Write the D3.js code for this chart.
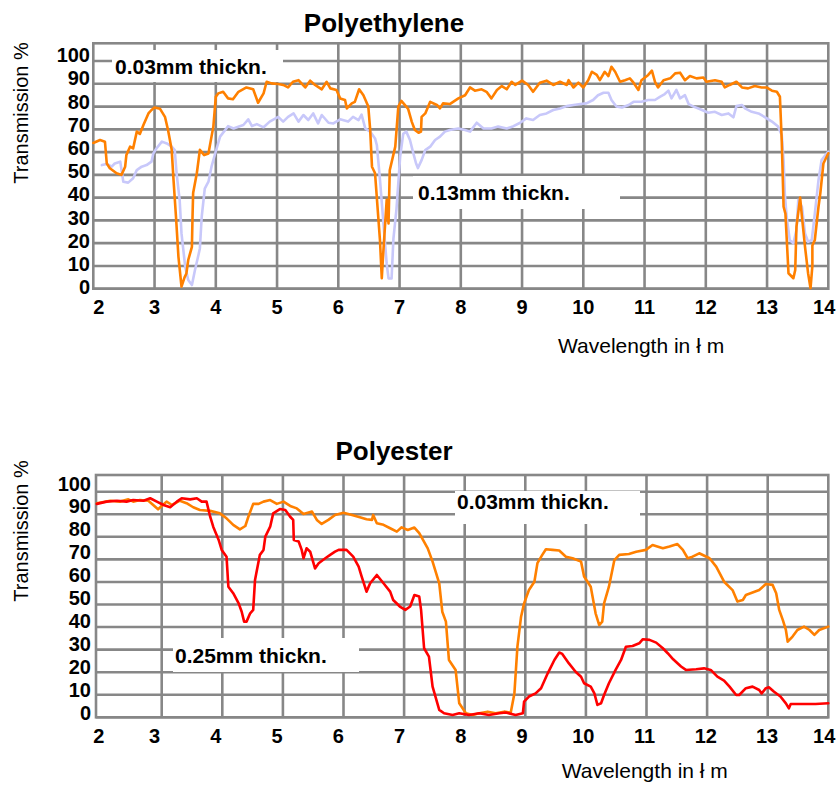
<!DOCTYPE html>
<html>
<head>
<meta charset="utf-8">
<script src="https://cdn.jsdelivr.net/npm/d3@7"></script>
<style>
  html, body { margin: 0; padding: 0; background: #fff; }
  svg { display: block; }
  text { font-family: "Liberation Sans", Arial, Helvetica, sans-serif; fill: #000; }
</style>
</head>
<body>
<svg id="chart" width="836" height="787"></svg>
<script>
// ---------------- DATA ----------------
const xTicks = [2, 3, 4, 5, 6, 7, 8, 9, 10, 11, 12, 13, 14];
const yTicks = [0, 10, 20, 30, 40, 50, 60, 70, 80, 90, 100];

const titles = ["Polyethylene", "Polyester"];
const yTitle = "Transmission %";
const xTitle = "Wavelength in ł m";

// Polyethylene 0.03mm (orange)
const pe003 = [[2.0,64],[2.11,65.3],[2.19,64.6],[2.22,55],[2.27,52.9],[2.38,50.7],[2.46,50],[2.52,53.6],[2.54,58.7],[2.6,62.4],[2.65,61.6],[2.71,69],[2.76,68],[2.82,72],[2.9,77],[2.95,78.5],[3.0,79.6],[3.09,79],[3.17,75.5],[3.22,69.7],[3.28,61],[3.31,47.7],[3.35,31.6],[3.39,14],[3.44,0.9],[3.49,5],[3.52,6.7],[3.55,12.6],[3.61,18.4],[3.62,31.6],[3.63,42],[3.69,50.7],[3.74,61],[3.81,58.7],[3.88,59.4],[3.93,66.8],[3.96,71.2],[4.0,84.3],[4.04,85.8],[4.12,86.5],[4.2,83.6],[4.28,83.2],[4.37,86.5],[4.5,88.4],[4.61,87.6],[4.69,81.7],[4.78,85.8],[4.83,90.9],[4.91,90.2],[5.02,89.9],[5.1,89.5],[5.18,88.4],[5.26,90.9],[5.35,91.6],[5.46,88.4],[5.54,91.4],[5.62,89.5],[5.73,87.6],[5.81,90.9],[5.87,88],[5.97,87.3],[6.03,83.6],[6.11,82.9],[6.14,79.2],[6.22,81.4],[6.27,82.1],[6.34,87.6],[6.41,85],[6.49,80],[6.52,70],[6.55,53.6],[6.6,50.7],[6.68,21.4],[6.71,4.6],[6.73,14],[6.79,39],[6.82,28.7],[6.84,52],[6.93,62.4],[6.98,80],[7.03,82.5],[7.14,79],[7.2,73.3],[7.25,69.7],[7.31,68.5],[7.35,69],[7.36,75.5],[7.42,77],[7.5,82.1],[7.61,80.7],[7.66,79.2],[7.71,81.4],[7.82,81.1],[7.96,83.6],[8.07,85],[8.15,88.4],[8.23,87],[8.34,87.6],[8.42,86.5],[8.5,83.6],[8.59,87.3],[8.67,89],[8.75,87.6],[8.83,90.9],[8.89,89.5],[9.0,91.4],[9.1,89.5],[9.18,86.5],[9.29,90.5],[9.4,91.4],[9.51,89.5],[9.62,90.9],[9.73,89.5],[9.76,91.6],[9.84,88.4],[9.92,90.5],[10.0,88.4],[10.08,91.6],[10.14,95.3],[10.22,93.9],[10.27,91.6],[10.35,95.3],[10.41,93.4],[10.46,97.5],[10.52,95.3],[10.6,90.9],[10.68,91.6],[10.76,92.4],[10.82,90.5],[10.9,87.3],[10.95,91.6],[11.06,93.9],[11.12,95.8],[11.17,90.9],[11.22,88.4],[11.31,91.6],[11.42,92.4],[11.5,94.6],[11.58,94.9],[11.66,91.6],[11.74,93.4],[11.85,92.4],[11.96,92.8],[12.01,90.9],[12.15,91.6],[12.26,90.9],[12.31,88.4],[12.39,89.5],[12.5,90.9],[12.59,88.4],[12.69,88],[12.8,89],[12.91,88.4],[12.99,88.4],[13.08,87],[13.16,86.5],[13.21,84.3],[13.24,65],[13.27,36],[13.3,33],[13.35,6.8],[13.43,4.6],[13.46,8.2],[13.48,27.2],[13.54,40],[13.57,31.6],[13.62,18.4],[13.67,6.8],[13.71,0.2],[13.74,10],[13.74,19],[13.78,21.4],[13.84,36],[13.87,42],[13.92,55],[14.0,59.5]];

// Polyethylene 0.13mm (lavender)
const pe013 = [[2.14,54.3],[2.22,54.8],[2.3,53.6],[2.35,55],[2.44,55.8],[2.49,47],[2.57,46.6],[2.65,48.5],[2.71,52.1],[2.79,53.6],[2.87,54.3],[2.95,55.8],[2.98,59.4],[3.03,61.6],[3.12,64.6],[3.2,63.8],[3.28,62.4],[3.33,60.9],[3.36,50.7],[3.41,38.9],[3.44,24.3],[3.5,9.7],[3.55,3.8],[3.61,1.6],[3.66,8.2],[3.71,14],[3.74,17.7],[3.77,31.6],[3.82,44],[3.88,47],[3.93,53.6],[3.99,59.4],[4.07,66.8],[4.2,71.4],[4.29,70.4],[4.39,71.4],[4.45,71.9],[4.53,74.4],[4.59,71.4],[4.67,72.3],[4.78,70.9],[4.88,73.4],[5.02,75.5],[5.1,73.4],[5.18,75.5],[5.27,77],[5.35,73.4],[5.43,76.3],[5.51,74.1],[5.59,77],[5.67,72.6],[5.73,76.3],[5.84,72.9],[5.92,72.6],[6.03,74.4],[6.16,73.4],[6.24,75.5],[6.33,74.1],[6.38,76.5],[6.44,70.4],[6.52,69],[6.6,66],[6.63,63],[6.68,48],[6.73,31],[6.79,11],[6.82,4.5],[6.87,4.5],[6.9,22],[6.95,35],[7.01,58],[7.06,68],[7.11,69],[7.17,65.3],[7.22,60],[7.27,55],[7.3,53],[7.36,56.5],[7.42,60.9],[7.5,62.4],[7.58,65.3],[7.66,66.8],[7.74,69],[7.82,69.7],[7.96,70.4],[8.07,69.7],[8.15,69],[8.26,72.9],[8.37,70.4],[8.5,70.4],[8.61,71.2],[8.75,70.4],[8.86,71.4],[8.97,72.9],[9.07,74.8],[9.18,74.1],[9.29,76.3],[9.4,77],[9.51,78.5],[9.62,79.2],[9.73,80.2],[9.84,80.7],[9.95,81.1],[10.05,81.4],[10.16,82.9],[10.24,85],[10.33,86.1],[10.41,86.1],[10.46,82.9],[10.54,80],[10.63,79.6],[10.74,80.7],[10.82,82.1],[10.95,82.1],[11.06,82.9],[11.17,82.9],[11.25,84.3],[11.33,85.5],[11.39,87],[11.44,83.6],[11.52,87.3],[11.58,83.6],[11.66,85],[11.72,81.1],[11.8,80],[11.91,78.8],[12.04,77.3],[12.15,77.7],[12.26,76.3],[12.37,77],[12.45,75.3],[12.5,80.2],[12.59,80.7],[12.64,79.2],[12.75,77.7],[12.86,77],[12.97,75.3],[13.08,73.4],[13.18,71.2],[13.24,67.5],[13.27,56.5],[13.29,41.9],[13.32,31.6],[13.37,21.4],[13.43,19.9],[13.48,25.8],[13.51,39],[13.57,36],[13.62,24.3],[13.67,20.6],[13.73,21.4],[13.78,33],[13.84,47.7],[13.89,56.5],[14.0,60.2]];

// Polyester 0.03mm (orange)
const pes003 = [[1.93,94.9],[2.15,96],[2.31,95.6],[2.45,96.6],[2.53,95.6],[2.64,96.3],[2.78,96],[2.86,94.1],[2.94,92.2],[3.0,93.7],[3.08,95.6],[3.17,94.1],[3.3,96],[3.41,94.9],[3.52,93.1],[3.63,91.9],[3.8,91.5],[3.96,90.4],[4.07,88.2],[4.18,85.3],[4.29,83.3],[4.38,84.8],[4.43,88.9],[4.51,94.6],[4.6,94.6],[4.68,95.6],[4.79,96.3],[4.9,94.6],[5.01,95.6],[5.12,93.7],[5.23,92.6],[5.34,90.1],[5.48,91.2],[5.56,87.5],[5.64,85.7],[5.75,87.5],[5.86,89.7],[6.0,90.7],[6.14,89.7],[6.27,88.7],[6.38,87.8],[6.47,87.5],[6.49,89.7],[6.55,86],[6.66,85.3],[6.77,83.8],[6.88,82.3],[6.96,84.2],[7.06,83],[7.17,84.1],[7.25,81.6],[7.39,74.9],[7.47,69],[7.58,59.4],[7.63,46.8],[7.69,42.4],[7.74,25.4],[7.85,21],[7.91,6.2],[8.02,1.8],[8.13,1],[8.24,1.8],[8.38,2.5],[8.51,1.8],[8.65,2.5],[8.76,2.1],[8.82,10.6],[8.87,31.3],[8.93,44.6],[8.98,50.5],[9.06,56.4],[9.15,60.1],[9.2,68.3],[9.28,72],[9.34,74.5],[9.45,74.2],[9.56,73.9],[9.67,71.2],[9.78,70.5],[9.92,69],[9.97,62.4],[10.08,57.9],[10.16,46.1],[10.22,40.9],[10.27,42.4],[10.3,50.5],[10.38,57.9],[10.47,69.7],[10.55,72],[10.71,72.4],[10.83,73.4],[10.99,74.2],[11.1,76.4],[11.27,74.9],[11.38,75.7],[11.51,76.8],[11.6,74.2],[11.68,70.5],[11.76,71.2],[11.87,72.7],[12.04,70.5],[12.15,66.8],[12.28,60.1],[12.42,56.4],[12.5,51.3],[12.59,52],[12.64,54.2],[12.75,55.3],[12.86,56.4],[12.97,59.1],[13.08,58.7],[13.14,55],[13.19,47.6],[13.25,43.1],[13.3,38.7],[13.33,33.5],[13.41,35.8],[13.49,38.7],[13.6,40.2],[13.69,38.7],[13.77,36.5],[13.85,38.7],[14.0,40.2]];

// Polyester 0.25mm (red)
const pes025 = [[1.93,94.6],[2.09,95.6],[2.26,96],[2.42,95.6],[2.53,96.3],[2.7,96],[2.81,97.1],[2.92,95.6],[3.03,94.1],[3.14,93.1],[3.25,95.6],[3.33,97.1],[3.47,96.6],[3.58,97.1],[3.66,95.6],[3.74,95.6],[3.8,88.9],[3.85,84.5],[3.94,78.6],[3.99,74.2],[4.07,71.2],[4.1,57.9],[4.18,55],[4.27,50.5],[4.32,46.8],[4.36,42.4],[4.4,42.4],[4.46,46.1],[4.51,47.6],[4.54,60.9],[4.62,72],[4.68,74.2],[4.71,80.1],[4.79,84.5],[4.84,90.4],[4.95,92.3],[5.04,91.9],[5.12,88.9],[5.17,87.5],[5.18,78.6],[5.26,77.9],[5.31,74.2],[5.34,70.5],[5.39,74.9],[5.45,73.4],[5.53,66],[5.59,68.3],[5.7,70.5],[5.78,72],[5.86,73.4],[5.92,74.2],[6.05,74.2],[6.16,71.2],[6.25,66.8],[6.3,62.4],[6.38,55.7],[6.44,59.4],[6.55,63.1],[6.66,59.4],[6.77,55.7],[6.82,52],[6.93,49.1],[7.02,47.6],[7.1,49.1],[7.17,54.2],[7.25,53.5],[7.28,47.6],[7.33,30.6],[7.41,26.9],[7.47,13.6],[7.58,3.3],[7.66,1.8],[7.8,1],[7.91,1.8],[8.07,1],[8.24,1.8],[8.4,1],[8.57,1.8],[8.68,2.1],[8.84,1],[8.96,1.8],[8.98,6.9],[9.06,9.2],[9.17,10.6],[9.26,12.9],[9.37,19.5],[9.48,25.4],[9.56,28.7],[9.61,28.1],[9.72,23.9],[9.83,20.2],[9.92,18],[9.97,15.1],[10.08,13.6],[10.14,10.6],[10.19,5.5],[10.25,6.2],[10.3,9.9],[10.38,15.1],[10.49,21],[10.58,25.4],[10.66,31.3],[10.77,31.6],[10.88,32.8],[10.94,34.6],[11.05,34.3],[11.16,33.1],[11.27,30.6],[11.35,28.4],[11.44,25.7],[11.57,22.5],[11.65,21],[11.82,21.3],[11.95,21.7],[12.06,21],[12.17,18],[12.28,16.3],[12.37,13.6],[12.48,9.9],[12.53,9.9],[12.64,12.9],[12.75,13.6],[12.86,12.1],[12.9,10.6],[12.97,12.9],[13.02,13.3],[13.1,11.4],[13.21,9.2],[13.3,6.2],[13.35,4],[13.38,5.9],[13.52,5.9],[13.79,5.9],[14.0,6.2]];

const seriesLabels = ["0.03mm thickn.", "0.13mm thickn.", "0.03mm thickn.", "0.25mm thickn."];

// ---------------- DRAW ----------------
const svg = d3.select("#chart");
const GRID = "#878787";

function panel(cfg) {
  const g = svg.append("g");
  const x = d3.scaleLinear().domain([2, 14]).range(cfg.xRange);
  const y = d3.scaleLinear().domain([0, cfg.yMax]).range([cfg.bottom, cfg.top]);
  const xLab = d3.scaleLinear().domain([2, 14]).range([93.3, 828.3]);
  const yLab = d3.scaleLinear().domain([0, 100]).range(cfg.yLabRange);

  // grid
  const grid = g.append("g").attr("stroke", GRID).attr("stroke-width", 2.6).attr("fill", "none");
  grid.selectAll("line.h").data(yTicks).join("line")
    .attr("x1", cfg.left).attr("x2", cfg.xRange[1])
    .attr("y1", d => y(d)).attr("y2", d => y(d));
  grid.selectAll("line.v").data(xTicks.slice(1, -1)).join("line")
    .attr("x1", d => x(d)).attr("x2", d => x(d))
    .attr("y1", cfg.top).attr("y2", cfg.bottom);
  grid.append("rect")
    .attr("x", cfg.left).attr("y", cfg.top)
    .attr("width", cfg.xRange[1] - cfg.left).attr("height", cfg.bottom - cfg.top);

  // label boxes
  cfg.labels.forEach(l => {
    g.append("rect").attr("x", l.bx).attr("y", l.by).attr("width", l.bw).attr("height", l.bh).attr("fill", "#fff");
    g.append("text").attr("x", l.tx).attr("y", l.ty)
      .attr("font-size", 21).attr("font-weight", "bold").text(l.text);
  });

  // series
  const line = d3.line().x(d => x(d[0])).y(d => y(d[1]));
  cfg.series.forEach(s => {
    g.append("path").datum(s.data).attr("d", line)
      .attr("fill", "none").attr("stroke", s.color).attr("stroke-width", 2.6)
      .attr("stroke-linejoin", "round").attr("stroke-linecap", "round");
  });

  // y tick labels
  g.append("g").selectAll("text").data(yTicks).join("text")
    .attr("x", cfg.yLabX).attr("y", d => yLab(d)).attr("dy", "0.36em")
    .attr("text-anchor", "end").attr("font-size", 20).attr("font-weight", "bold")
    .text(d => d);
  // x tick labels
  const last = xTicks.length - 1;
  g.append("g").selectAll("text").data(xTicks).join("text")
    .attr("x", d => xLab(d)).attr("y", cfg.xLabY)
    .attr("dx", (d, i) => i === last ? 7 : 0)
    .attr("text-anchor", (d, i) => i === 0 ? "start" : (i === last ? "end" : "middle"))
    .attr("font-size", 20).attr("font-weight", "bold")
    .text(d => d);

  // titles
  g.append("text").attr("x", cfg.titleX).attr("y", cfg.titleY)
    .attr("text-anchor", "middle").attr("font-size", 26).attr("font-weight", "bold").text(cfg.title);
  g.append("text").attr("transform", `translate(28,${cfg.yTitleY}) rotate(-90)`)
    .attr("text-anchor", "middle").attr("font-size", 20).text(yTitle);
  g.append("text").attr("x", cfg.xTitleX).attr("y", cfg.xTitleY)
    .attr("font-size", 21).text(xTitle);
}

panel({
  title: titles[0], titleX: 384, titleY: 32,
  xRange: [93.3, 828.3], left: 93.3, top: 43.3, bottom: 288.7, yMax: 107.8,
  yLabRange: [287, 55], yLabX: 90, xLabY: 314,
  yTitleY: 113, xTitleX: 558, xTitleY: 353,
  labels: [
    {text: seriesLabels[0], bx: 112, by: 50, bw: 171, bh: 32, tx: 115, ty: 74},
    {text: seriesLabels[1], bx: 413, by: 176, bw: 207, bh: 33, tx: 418, ty: 200}
  ],
  series: [
    {data: pe013, color: "#c8c8fa"},
    {data: pe003, color: "#ff8000"}
  ]
});

panel({
  title: titles[1], titleX: 394, titleY: 460,
  xRange: [101.1, 828.3], left: 96, top: 475, bottom: 717.3, yMax: 107.4,
  yLabRange: [713, 483.3], yLabX: 91, xLabY: 743,
  yTitleY: 531, xTitleX: 561.7, xTitleY: 778,
  labels: [
    {text: seriesLabels[2], bx: 455, by: 491, bw: 185, bh: 33, tx: 457, ty: 509},
    {text: seriesLabels[3], bx: 173, by: 638, bw: 186, bh: 34, tx: 175, ty: 663}
  ],
  series: [
    {data: pes003, color: "#ff8000"},
    {data: pes025, color: "#ff0000"}
  ]
});
</script>
</body>
</html>
